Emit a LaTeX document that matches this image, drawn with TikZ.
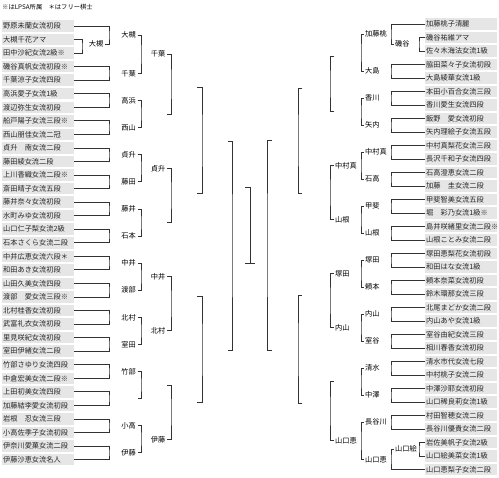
\documentclass[tikz,border=0pt]{standalone}
\usepackage{fontspec}
\newfontfamily\jp{Noto Sans CJK JP}
\definecolor{boxgray}{HTML}{E6E6E6}
\definecolor{linegray}{HTML}{333333}

\begin{document}
\begin{tikzpicture}[
  x=1pt, y=-1pt,
  pbox/.style={anchor=west, fill=boxgray, text width=70pt, inner xsep=1pt, inner ysep=0pt, minimum height=11.5pt, align=left, text=black!85, font=\jp\fontsize{7.2pt}{8pt}\selectfont},
  winl/.style={anchor=east, inner xsep=1.5pt, inner ysep=0pt, font=\jp\fontsize{7.2pt}{8pt}\selectfont},
  winr/.style={anchor=west, inner xsep=1.5pt, inner ysep=0pt, font=\jp\fontsize{7.2pt}{8pt}\selectfont},
  brk/.style={draw=linegray, line width=0.8pt}
]
\fill[white] (0,0) rectangle (499,478);
\useasboundingbox (0,0) rectangle (499,478);

\node[anchor=west, inner sep=0pt, font=\jp\fontsize{6.3pt}{7pt}\selectfont] (note) at (2,7) {※はLPSA所属　＊はフリー棋士};

% left block
\node[pbox] (L1) at (2,26) {野原未蘭女流初段};
\node[pbox] (L2) at (2,39.55) {大槻千花アマ};
\node[pbox] (L3) at (2,53.1) {田中沙紀女流2級※};
\node[pbox] (L4) at (2,66.65) {磯谷真帆女流初段※};
\node[pbox] (L5) at (2,80.2) {千葉涼子女流四段};
\node[pbox] (L6) at (2,93.75) {高浜愛子女流1級};
\node[pbox] (L7) at (2,107.3) {渡辺弥生女流初段};
\node[pbox] (L8) at (2,120.85) {船戸陽子女流三段※};
\node[pbox] (L9) at (2,134.4) {西山朋佳女流二冠};
\node[pbox] (L10) at (2,147.95) {貞升　南女流二段};
\node[pbox] (L11) at (2,161.5) {藤田綾女流二段};
\node[pbox] (L12) at (2,175.05) {上川香織女流二段※};
\node[pbox] (L13) at (2,188.6) {斎田晴子女流五段};
\node[pbox] (L14) at (2,202.15) {藤井奈々女流初段};
\node[pbox] (L15) at (2,215.7) {水町みゆ女流初段};
\node[pbox] (L16) at (2,229.25) {山口仁子梨女流2級};
\node[pbox] (L17) at (2,242.8) {石本さくら女流二段};
\node[pbox] (L18) at (2,256.35) {中井広恵女流六段＊};
\node[pbox] (L19) at (2,269.9) {和田あき女流初段};
\node[pbox] (L20) at (2,283.45) {山田久美女流四段};
\node[pbox] (L21) at (2,297) {渡部　愛女流三段※};
\node[pbox] (L22) at (2,310.55) {北村桂香女流初段};
\node[pbox] (L23) at (2,324.1) {武富礼衣女流初段};
\node[pbox] (L24) at (2,337.65) {里見咲紀女流初段};
\node[pbox] (L25) at (2,351.2) {室田伊緒女流二段};
\node[pbox] (L26) at (2,364.75) {竹部さゆり女流四段};
\node[pbox] (L27) at (2,378.3) {中倉宏美女流二段※};
\node[pbox] (L28) at (2,391.85) {上田初美女流四段};
\node[pbox] (L29) at (2,405.4) {加藤結李愛女流初段};
\node[pbox] (L30) at (2,418.95) {岩根　忍女流三段};
\node[pbox] (L31) at (2,432.5) {小高佐季子女流初段};
\node[pbox] (L32) at (2,446.05) {伊奈川愛菓女流二段};
\node[pbox] (L33) at (2,459.6) {伊藤沙恵女流名人};

\coordinate (lk0) at (82,46.33);
\draw[brk] (L2.east) -| (lk0) |- (L3.east);
\node[winl] (ls) at (105,44) {大槻};

\coordinate (lp1) at (109,35);
\coordinate (lp2) at (109,73.43);
\coordinate (lp3) at (109,100.53);
\coordinate (lp4) at (109,127.63);
\coordinate (lp5) at (109,154.73);
\coordinate (lp6) at (109,181.83);
\coordinate (lp7) at (109,208.93);
\coordinate (lp8) at (109,236.03);
\coordinate (lp9) at (109,263.13);
\coordinate (lp10) at (109,290.23);
\coordinate (lp11) at (109,317.33);
\coordinate (lp12) at (109,344.43);
\coordinate (lp13) at (109,371.53);
\coordinate (lp14) at (109,398.63);
\coordinate (lp15) at (109,425.73);
\coordinate (lp16) at (109,452.83);
\draw[brk] (L1.east) -| (lp1) |- (ls.east);
\draw[brk] (L4.east) -| (lp2) |- (L5.east);
\draw[brk] (L6.east) -| (lp3) |- (L7.east);
\draw[brk] (L8.east) -| (lp4) |- (L9.east);
\draw[brk] (L10.east) -| (lp5) |- (L11.east);
\draw[brk] (L12.east) -| (lp6) |- (L13.east);
\draw[brk] (L14.east) -| (lp7) |- (L15.east);
\draw[brk] (L16.east) -| (lp8) |- (L17.east);
\draw[brk] (L18.east) -| (lp9) |- (L19.east);
\draw[brk] (L20.east) -| (lp10) |- (L21.east);
\draw[brk] (L22.east) -| (lp11) |- (L23.east);
\draw[brk] (L24.east) -| (lp12) |- (L25.east);
\draw[brk] (L26.east) -| (lp13) |- (L27.east);
\draw[brk] (L28.east) -| (lp14) |- (L29.east);
\draw[brk] (L30.east) -| (lp15) |- (L31.east);
\draw[brk] (L32.east) -| (lp16) |- (L33.east);

\node[winl] (la1) at (137.5,35) {大槻};
\node[winl] (la2) at (137.5,73.43) {千葉};
\node[winl] (la3) at (137.5,100.53) {高浜};
\node[winl] (la4) at (137.5,127.63) {西山};
\node[winl] (la5) at (137.5,154.73) {貞升};
\node[winl] (la6) at (137.5,181.83) {藤田};
\node[winl] (la7) at (137.5,208.93) {藤井};
\node[winl] (la8) at (137.5,236.03) {石本};
\node[winl] (la9) at (137.5,263.13) {中井};
\node[winl] (la10) at (137.5,290.23) {渡部};
\node[winl] (la11) at (137.5,317.33) {北村};
\node[winl] (la12) at (137.5,344.43) {室田};
\node[winl] (la13) at (137.5,371.53) {竹部};
\coordinate (la14) at (137.5,398.63);
\node[winl] (la15) at (137.5,425.73) {小高};
\node[winl] (la16) at (137.5,452.83) {伊藤};

\coordinate (lq1) at (141,54.22);
\coordinate (lq2) at (141,114.08);
\coordinate (lq3) at (141,168.28);
\coordinate (lq4) at (141,222.48);
\coordinate (lq5) at (141,276.68);
\coordinate (lq6) at (141,330.88);
\coordinate (lq7) at (141,385.08);
\coordinate (lq8) at (141,439.28);
\draw[brk] (la1.east) -| (lq1) |- (la2.east);
\draw[brk] (la3.east) -| (lq2) |- (la4.east);
\draw[brk] (la5.east) -| (lq3) |- (la6.east);
\draw[brk] (la7.east) -| (lq4) |- (la8.east);
\draw[brk] (la9.east) -| (lq5) |- (la10.east);
\draw[brk] (la11.east) -| (lq6) |- (la12.east);
\draw[brk] (la13.east) -| (lq7) |- (la14);
\draw[brk] (la15.east) -| (lq8) |- (la16.east);

\node[winl] (lb1) at (167,54.22) {千葉};
\coordinate (lb2) at (167,114.08);
\node[winl] (lb3) at (167,168.28) {貞升};
\coordinate (lb4) at (167,222.48);
\node[winl] (lb5) at (167,276.68) {中井};
\node[winl] (lb6) at (167,330.88) {北村};
\coordinate (lb7) at (167,385.08);
\node[winl] (lb8) at (167,439.28) {伊藤};

\coordinate (lu1) at (171,84.15);
\coordinate (lu2) at (171,195.38);
\coordinate (lu3) at (171,303.78);
\coordinate (lu4) at (171,412.18);
\draw[brk] (lb1.east) -| (lu1) |- (lb2);
\draw[brk] (lb3.east) -| (lu2) |- (lb4);
\draw[brk] (lb5.east) -| (lu3) |- (lb6.east);
\draw[brk] (lb7) -| (lu4) |- (lb8.east);

\coordinate (lc1) at (197,87);
\coordinate (lc2) at (197,193);
\coordinate (lc3) at (197,296);
\coordinate (lc4) at (197,402);
\coordinate (lv1) at (202,141);
\coordinate (lv2) at (202,350);
\draw[brk] (lc1) -| (lv1) |- (lc2);
\draw[brk] (lc3) -| (lv2) |- (lc4);

\coordinate (ld1) at (228,141);
\coordinate (ld2) at (228,350);
\coordinate (lw) at (232,245.5);
\draw[brk] (ld1) -| (lw) |- (ld2);

% centre
\coordinate (ft) at (245,187);
\coordinate (fb) at (250,263.5);
\coordinate (fl) at (245,263.5);
\coordinate (fr) at (255,263.5);
\draw[brk] (ft) -| (fb);
\draw[brk] (fl) -- (fr);

% right block
\node[pbox] (R1) at (425,24) {加藤桃子清麗};
\node[pbox] (R2) at (425,37.5) {磯谷祐維アマ};
\node[pbox] (R3) at (425,51) {佐々木海法女流1級};
\node[pbox] (R4) at (425,64.5) {脇田菜々子女流初段};
\node[pbox] (R5) at (425,78) {大島綾華女流1級};
\node[pbox] (R6) at (425,91.5) {本田小百合女流三段};
\node[pbox] (R7) at (425,105) {香川愛生女流四段};
\node[pbox] (R8) at (425,118.5) {飯野　愛女流初段};
\node[pbox] (R9) at (425,132) {矢内理絵子女流五段};
\node[pbox] (R10) at (425,145.5) {中村真梨花女流三段};
\node[pbox] (R11) at (425,159) {長沢千和子女流四段};
\node[pbox] (R12) at (425,172.5) {石高澄恵女流二段};
\node[pbox] (R13) at (425,186) {加藤　圭女流二段};
\node[pbox] (R14) at (425,199.5) {甲斐智美女流五段};
\node[pbox] (R15) at (425,213) {堀　彩乃女流1級※};
\node[pbox] (R16) at (425,226.5) {島井咲緒里女流二段※};
\node[pbox] (R17) at (425,240) {山根ことみ女流二段};
\node[pbox] (R18) at (425,253.5) {塚田恵梨花女流初段};
\node[pbox] (R19) at (425,267) {和田はな女流1級};
\node[pbox] (R20) at (425,280.5) {頼本奈菜女流初段};
\node[pbox] (R21) at (425,294) {鈴木環那女流三段};
\node[pbox] (R22) at (425,307.5) {北尾まどか女流二段};
\node[pbox] (R23) at (425,321) {内山あや女流1級};
\node[pbox] (R24) at (425,334.5) {室谷由紀女流三段};
\node[pbox] (R25) at (425,348) {相川春香女流初段};
\node[pbox] (R26) at (425,361.5) {清水市代女流七段};
\node[pbox] (R27) at (425,375) {中村桃子女流二段};
\node[pbox] (R28) at (425,388.5) {中澤沙耶女流初段};
\node[pbox] (R29) at (425,402) {山口稀良莉女流1級};
\node[pbox] (R30) at (425,415.5) {村田智穂女流二段};
\node[pbox] (R31) at (425,429) {長谷川優貴女流二段};
\node[pbox] (R32) at (425,442.5) {岩佐美帆子女流2級};
\node[pbox] (R33) at (425,456) {山口絵美菜女流1級};
\node[pbox] (R34) at (425,469.5) {山口恵梨子女流二段};

\coordinate (rk0) at (419,44.25);
\coordinate (rk1) at (419,449.25);
\draw[brk] (R2.west) -| (rk0) |- (R3.west);
\draw[brk] (R32.west) -| (rk1) |- (R33.west);
\node[winr] (rs1) at (393.5,44.25) {磯谷};
\node[winr] (rs2) at (393.5,449.25) {山口絵};

\coordinate (rp1) at (391,34.13);
\coordinate (rp2) at (391,71.25);
\coordinate (rp3) at (391,98.25);
\coordinate (rp4) at (391,125.25);
\coordinate (rp5) at (391,152.25);
\coordinate (rp6) at (391,179.25);
\coordinate (rp7) at (391,206.25);
\coordinate (rp8) at (391,233.25);
\coordinate (rp9) at (391,260.25);
\coordinate (rp10) at (391,287.25);
\coordinate (rp11) at (391,314.25);
\coordinate (rp12) at (391,341.25);
\coordinate (rp13) at (391,368.25);
\coordinate (rp14) at (391,395.25);
\coordinate (rp15) at (391,422.25);
\coordinate (rp16) at (391,459.38);
\draw[brk] (R1.west) -| (rp1) |- (rs1.west);
\draw[brk] (R4.west) -| (rp2) |- (R5.west);
\draw[brk] (R6.west) -| (rp3) |- (R7.west);
\draw[brk] (R8.west) -| (rp4) |- (R9.west);
\draw[brk] (R10.west) -| (rp5) |- (R11.west);
\draw[brk] (R12.west) -| (rp6) |- (R13.west);
\draw[brk] (R14.west) -| (rp7) |- (R15.west);
\draw[brk] (R16.west) -| (rp8) |- (R17.west);
\draw[brk] (R18.west) -| (rp9) |- (R19.west);
\draw[brk] (R20.west) -| (rp10) |- (R21.west);
\draw[brk] (R22.west) -| (rp11) |- (R23.west);
\draw[brk] (R24.west) -| (rp12) |- (R25.west);
\draw[brk] (R26.west) -| (rp13) |- (R27.west);
\draw[brk] (R28.west) -| (rp14) |- (R29.west);
\draw[brk] (R30.west) -| (rp15) |- (R31.west);
\draw[brk] (rs2.west) -| (rp16) |- (R34.west);

\node[winr] (ra1) at (363.5,34.13) {加藤桃};
\node[winr] (ra2) at (363.5,71.25) {大島};
\node[winr] (ra3) at (363.5,98.25) {香川};
\node[winr] (ra4) at (363.5,125.25) {矢内};
\node[winr] (ra5) at (363.5,152.25) {中村真};
\node[winr] (ra6) at (363.5,179.25) {石高};
\node[winr] (ra7) at (363.5,206.25) {甲斐};
\node[winr] (ra8) at (363.5,233.25) {山根};
\node[winr] (ra9) at (363.5,260.25) {塚田};
\node[winr] (ra10) at (363.5,287.25) {頼本};
\node[winr] (ra11) at (363.5,314.25) {内山};
\node[winr] (ra12) at (363.5,341.25) {室谷};
\node[winr] (ra13) at (363.5,368.25) {清水};
\node[winr] (ra14) at (363.5,395.25) {中澤};
\node[winr] (ra15) at (363.5,422.25) {長谷川};
\node[winr] (ra16) at (363.5,459.38) {山口恵};

\coordinate (rq1) at (361,52.69);
\coordinate (rq2) at (361,111.75);
\coordinate (rq3) at (361,165.75);
\coordinate (rq4) at (361,219.75);
\coordinate (rq5) at (361,273.75);
\coordinate (rq6) at (361,327.75);
\coordinate (rq7) at (361,381.75);
\coordinate (rq8) at (361,440.81);
\draw[brk] (ra1.west) -| (rq1) |- (ra2.west);
\draw[brk] (ra3.west) -| (rq2) |- (ra4.west);
\draw[brk] (ra5.west) -| (rq3) |- (ra6.west);
\draw[brk] (ra7.west) -| (rq4) |- (ra8.west);
\draw[brk] (ra9.west) -| (rq5) |- (ra10.west);
\draw[brk] (ra11.west) -| (rq6) |- (ra12.west);
\draw[brk] (ra13.west) -| (rq7) |- (ra14.west);
\draw[brk] (ra15.west) -| (rq8) |- (ra16.west);

\coordinate (rb1) at (333.5,56);
\coordinate (rb2) at (333.5,111.75);
\node[winr] (rb3) at (333.5,165.75) {中村真};
\node[winr] (rb4) at (333.5,219.75) {山根};
\node[winr] (rb5) at (333.5,273.75) {塚田};
\node[winr] (rb6) at (333.5,327.75) {内山};
\coordinate (rb7) at (333.5,381.75);
\node[winr] (rb8) at (333.5,440.81) {山口恵};

\coordinate (ru1) at (330,84);
\coordinate (ru2) at (330,192.75);
\coordinate (ru3) at (330,300.75);
\coordinate (ru4) at (330,411.28);
\draw[brk] (rb1) -| (ru1) |- (rb2);
\draw[brk] (rb3.west) -| (ru2) |- (rb4.west);
\draw[brk] (rb5.west) -| (ru3) |- (rb6.west);
\draw[brk] (rb7) -| (ru4) |- (rb8.west);

\coordinate (rc1) at (302,88);
\coordinate (rc2) at (302,193);
\coordinate (rc3) at (302,295);
\coordinate (rc4) at (302,403);
\coordinate (rv1) at (298,140);
\coordinate (rv2) at (298,350);
\draw[brk] (rc1) -| (rv1) |- (rc2);
\draw[brk] (rc3) -| (rv2) |- (rc4);

\coordinate (rd1) at (272,140);
\coordinate (rd2) at (272,350);
\coordinate (rw) at (267,245);
\draw[brk] (rd1) -| (rw) |- (rd2);
\end{tikzpicture}
\end{document}
